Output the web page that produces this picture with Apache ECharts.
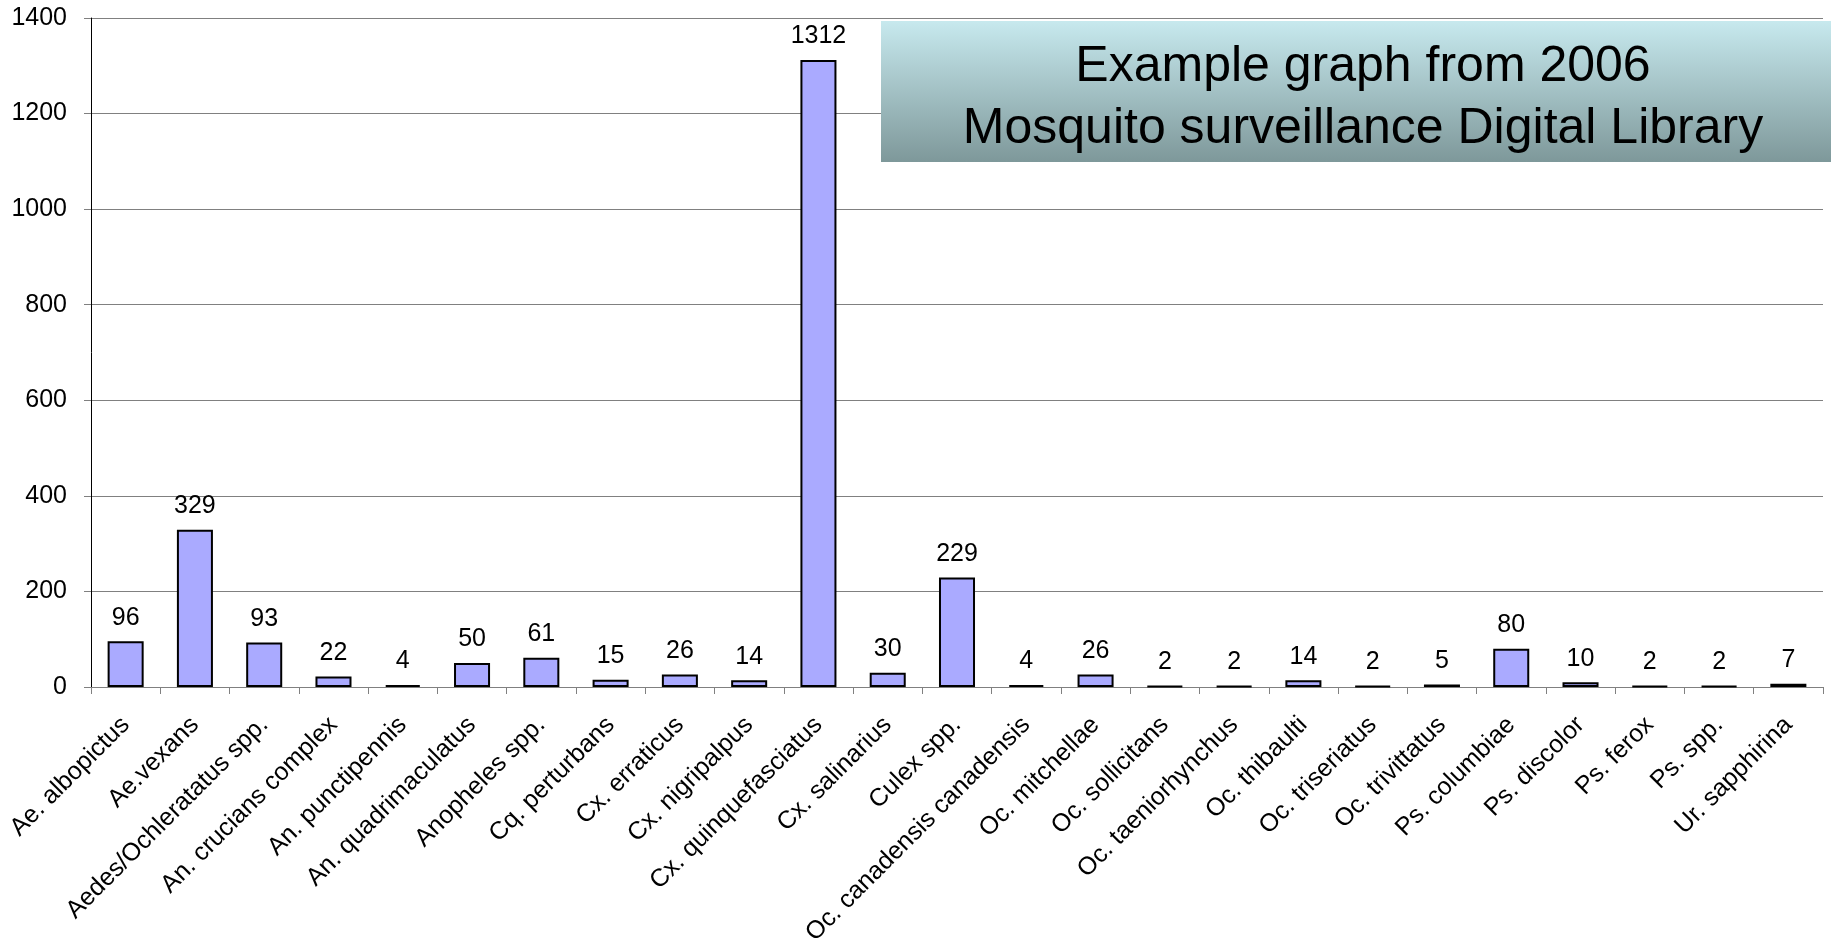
<!DOCTYPE html>
<html>
<head>
<meta charset="utf-8">
<script src="https://cdn.jsdelivr.net/npm/echarts@6/dist/echarts.min.js"></script>
<style>
html,body{margin:0;padding:0;background:#fff;}
#chart{width:1831px;height:942px;}
</style>
</head>
<body>
<div id="chart"></div>
<script>
const categories = ['Ae. albopictus', 'Ae.vexans', 'Aedes/Ochleratatus spp.', 'An. crucians complex', 'An. punctipennis', 'An. quadrimaculatus', 'Anopheles spp.', 'Cq. perturbans', 'Cx. erraticus', 'Cx. nigripalpus', 'Cx. quinquefasciatus', 'Cx. salinarius', 'Culex spp.', 'Oc. canadensis canadensis', 'Oc. mitchellae', 'Oc. sollicitans', 'Oc. taeniorhynchus', 'Oc. thibaulti', 'Oc. triseriatus', 'Oc. trivittatus', 'Ps. columbiae', 'Ps. discolor', 'Ps. ferox', 'Ps. spp.', 'Ur. sapphirina'];
const counts = [96, 329, 93, 22, 4, 50, 61, 15, 26, 14, 1312, 30, 229, 4, 26, 2, 2, 14, 2, 5, 80, 10, 2, 2, 7];
const yTicks = { min: 0, max: 1400, interval: 200 };
const titleLines = ['Example graph from 2006', 'Mosquito surveillance Digital Library'];

const FONT = "'Liberation Sans', Arial, sans-serif";
const chart = echarts.init(document.getElementById('chart'), null, { renderer: 'canvas' });
chart.setOption({
  animation: false,
  backgroundColor: '#ffffff',
  textStyle: { fontFamily: FONT },
  grid: { left: 91, right: 8, top: 18, bottom: 255, containLabel: false, outerBoundsMode: 'none' },
  xAxis: {
    type: 'category',
    data: categories,
    boundaryGap: true,
    axisLine: { show: true, lineStyle: { color: '#808080', width: 1 } },
    axisTick: { show: true, length: 7, inside: false, alignWithLabel: false, lineStyle: { color: '#808080' } },
    axisLabel: { interval: 0, rotate: 45, margin: 34, color: '#000', fontSize: 25, fontFamily: FONT, hideOverlap: false }
  },
  yAxis: {
    type: 'value',
    min: yTicks.min, max: yTicks.max, interval: yTicks.interval,
    axisLine: { show: true, lineStyle: { color: '#000', width: 1 } },
    axisTick: { show: true, length: 7, lineStyle: { color: '#808080' } },
    axisLabel: { color: '#000', fontSize: 25, margin: 24, fontFamily: FONT, formatter: function (v) { return String(v); } },
    splitLine: { show: true, lineStyle: { color: '#808080', width: 1 } }
  },
  series: [{
    type: 'bar',
    data: counts,
    barCategoryGap: '48%',
    itemStyle: { color: '#aaaaff', borderColor: '#000', borderWidth: 2 },
    label: { show: true, position: 'top', distance: 11, color: '#000', fontSize: 25, fontFamily: FONT }
  }],
  graphic: [
    {
      type: 'rect', left: 881, top: 21, z: 10,
      shape: { width: 950, height: 141 },
      style: {
        fill: new echarts.graphic.LinearGradient(0, 0, 0, 1, [
          { offset: 0, color: '#c7e9ee' },
          { offset: 1, color: '#7e989a' }
        ])
      }
    },
    {
      type: 'text', x: 1363, y: 67, z: 11,
      style: { text: titleLines[0], fill: '#000', font: "50px 'Liberation Sans', Arial, sans-serif", textAlign: 'center', textVerticalAlign: 'middle' }
    },
    {
      type: 'text', x: 1363, y: 129, z: 11,
      style: { text: titleLines[1], fill: '#000', font: "50px 'Liberation Sans', Arial, sans-serif", textAlign: 'center', textVerticalAlign: 'middle' }
    }
  ]
});
</script>
</body>
</html>
